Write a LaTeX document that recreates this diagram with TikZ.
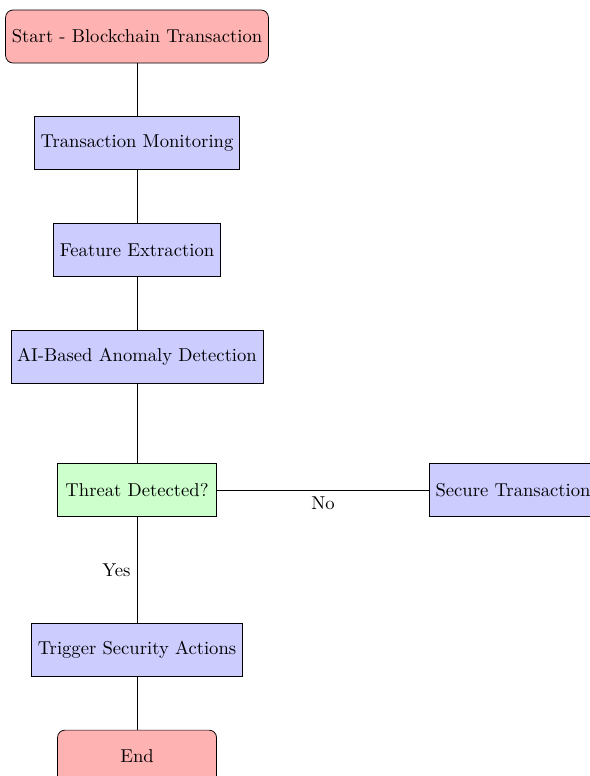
\documentclass[tikz,border=0pt]{standalone}
\usepackage{tikz}
\usetikzlibrary{positioning}

\begin{document}
\begin{tikzpicture}
  [node distance=1cm,
   startstop/.style = {
     rectangle, rounded corners, draw=black, fill=red!30,
     minimum width=3cm, minimum height=1cm, text centered},
   process/.style = {
     rectangle, draw=black, fill=blue!20,
     minimum width=3cm, minimum height=1cm, text centered},
   decision/.style = {
     rectangle, draw=black, fill=green!20,
     minimum width=3cm, minimum height=1cm, text centered}
  ]
  \useasboundingbox (-2.585,0.689) rectangle (8.53,-13.95);
  \node(start) [startstop] {Start - Blockchain Transaction};
  \node(monitor) [process, below=of start] {Transaction Monitoring};
  \node(feature) [process, below=of monitor] {Feature Extraction};
  \node(detect) [process, below=of feature] {AI-Based Anomaly Detection};
  \node(threat) [decision, below=1.5cm of detect] {Threat Detected?};
  \node(secure) [process, right=4cm of threat] {Secure Transaction};
  \node(trigger) [process, below=2cm of threat] {Trigger Security Actions};
  \node(stop) [startstop, below=of trigger] {End};

  \draw (start) -- (monitor);
  \draw (monitor) -- (feature);
  \draw (feature) -- (detect);
  \draw (detect) -- (threat);
  \draw (threat) -- node[below] {No} (secure);
  \draw (threat) -- node[left] {Yes} (trigger);
  \draw (trigger) -- (stop);
\end{tikzpicture}
\end{document}
